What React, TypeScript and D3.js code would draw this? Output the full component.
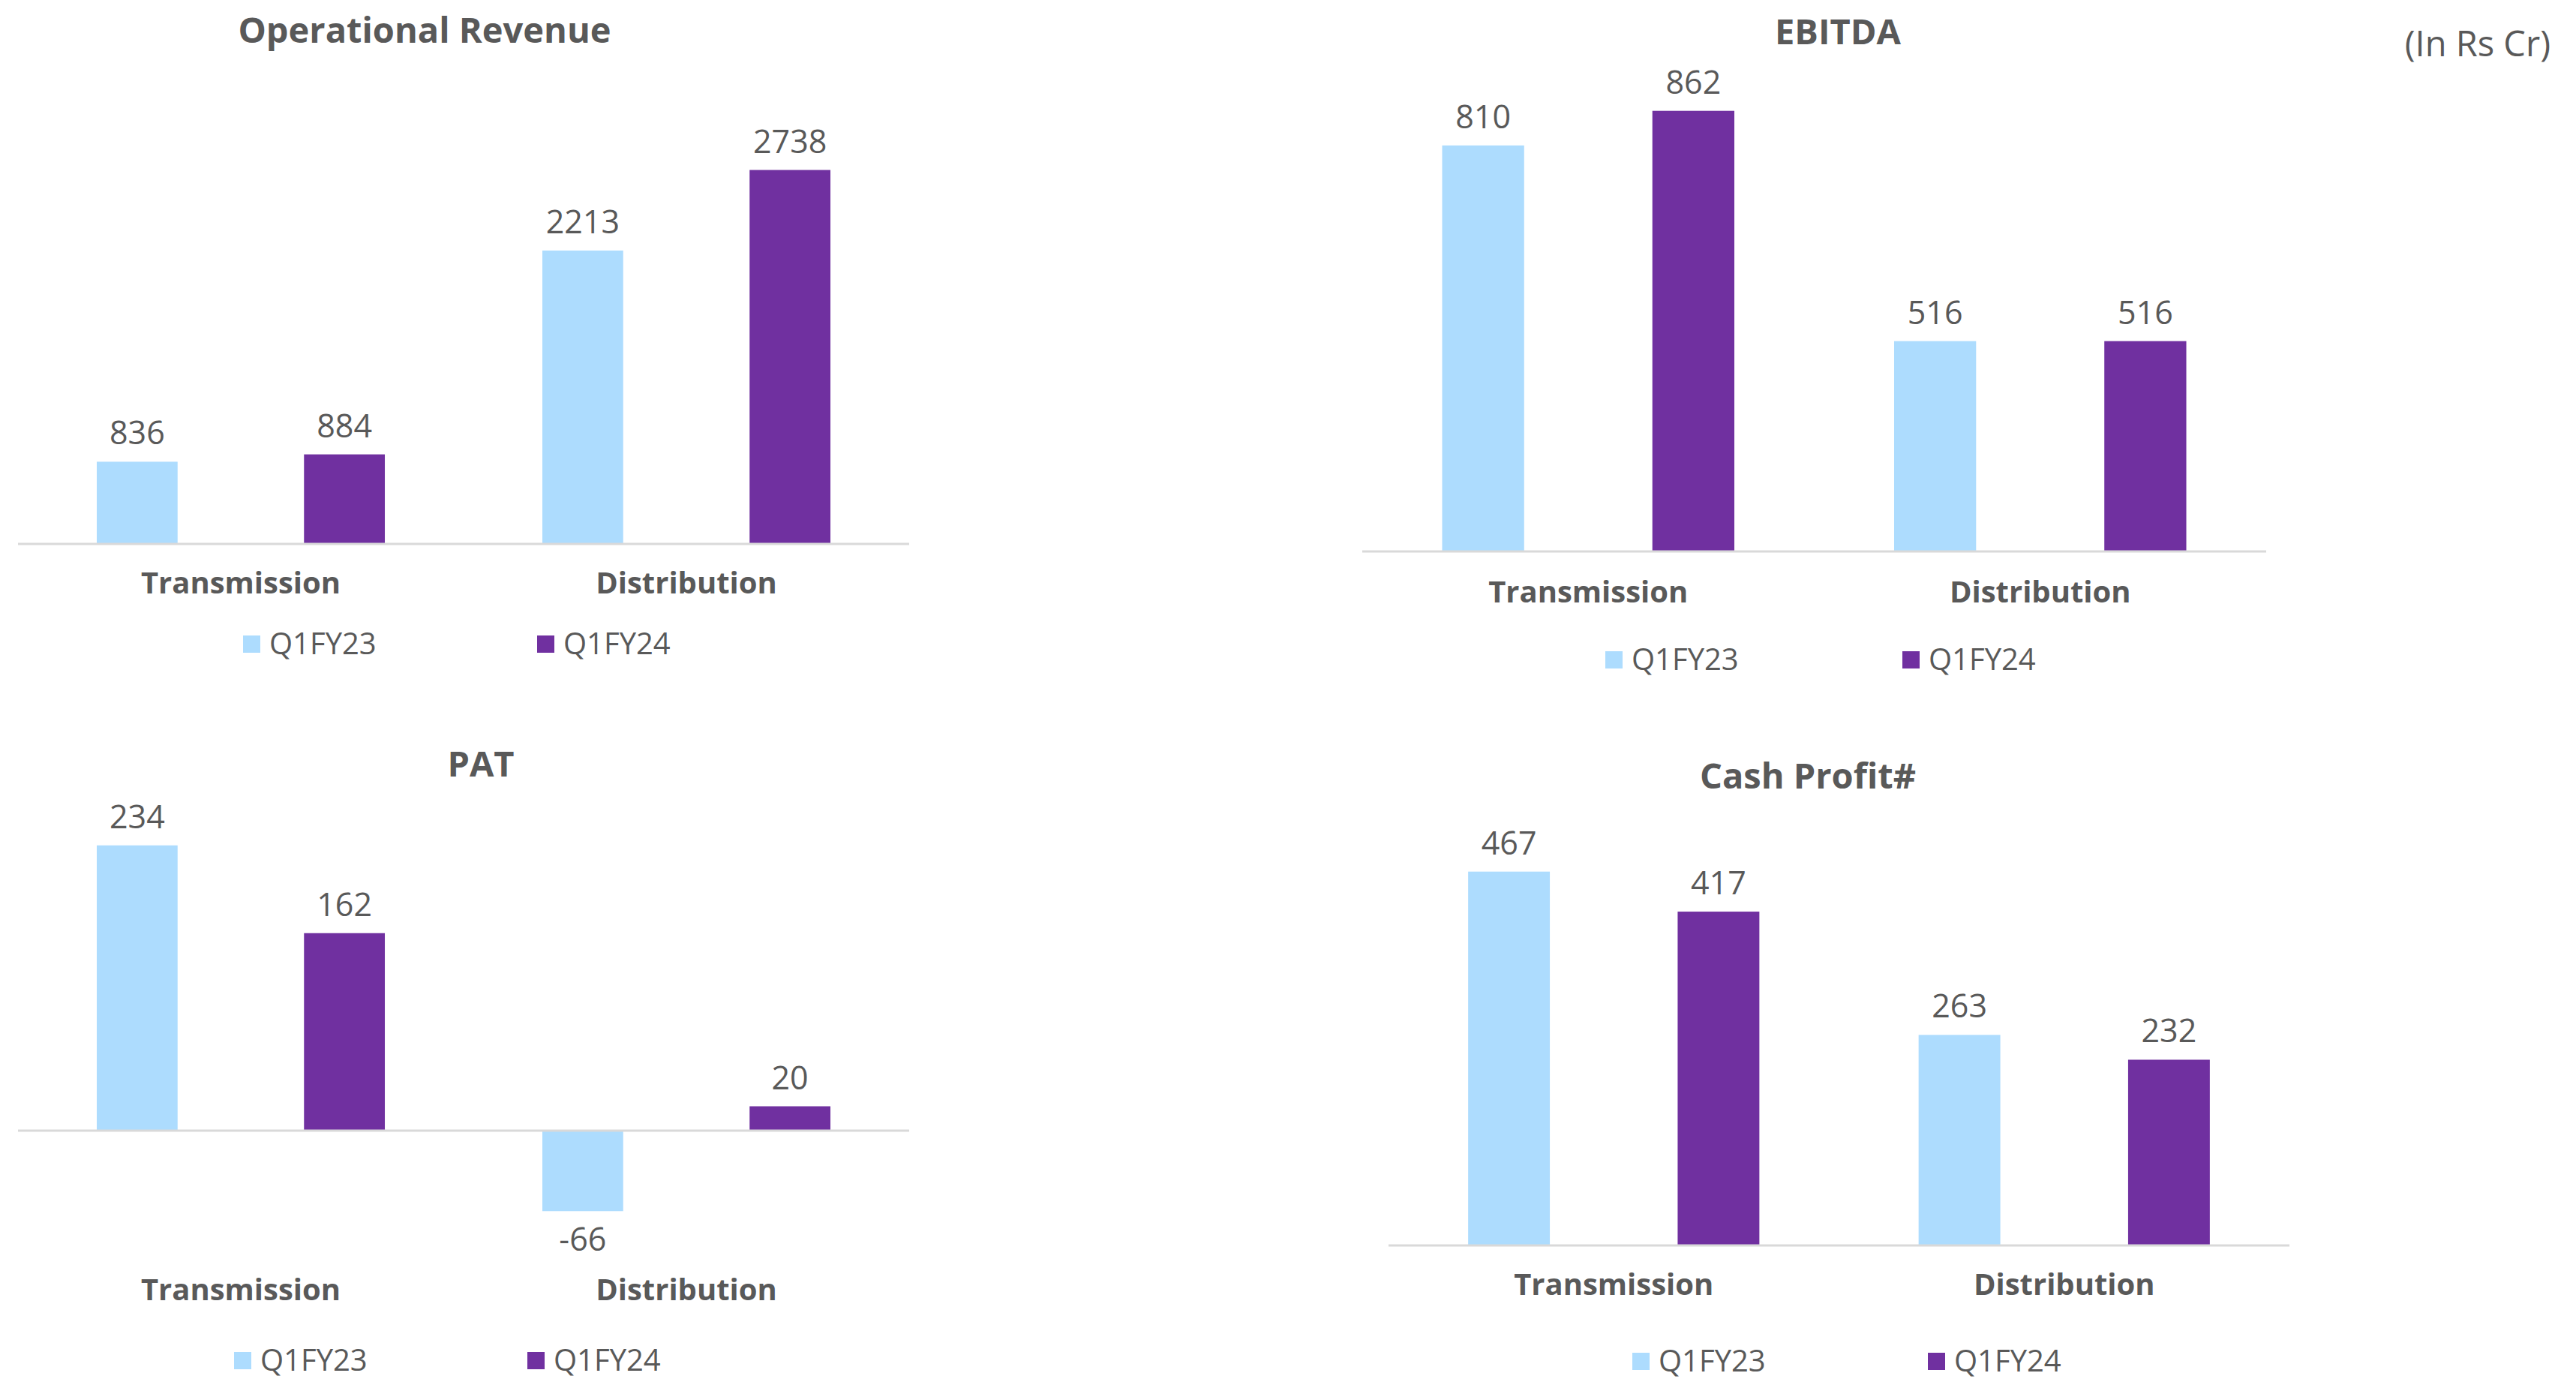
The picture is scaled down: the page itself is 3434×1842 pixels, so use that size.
import React from "react";
import * as d3 from "d3";

const categories = ["Transmission", "Distribution"];
const seriesNames = ["Q1FY23", "Q1FY24"];
const revenueQ1FY23 = [836, 2213];
const revenueQ1FY24 = [884, 2738];
const ebitdaQ1FY23 = [810, 516];
const ebitdaQ1FY24 = [862, 516];
const patQ1FY23 = [234, -66];
const patQ1FY24 = [162, 20];
const cashQ1FY23 = [467, 263];
const cashQ1FY24 = [417, 232];

const COLORS = ["#ADDCFE", "#7030A0"];
const TEXT = "#595959";
const FONT = "'Open Sans', 'Noto Sans', sans-serif";

type PanelCfg = {
  title: string;
  titleX: number;
  titleY: number;
  x0: number;
  x1: number;
  domain: [number, number];
  yRange: [number, number];
  catY: number;
  legendY: number;
  legendX: number[];
  series: number[][];
};

const panels: PanelCfg[] = [
  {
    title: "Operational Revenue",
    titleX: 566,
    titleY: 57,
    x0: 24,
    x1: 1212,
    domain: [300, 3000],
    yRange: [725, 173],
    catY: 791,
    legendY: 872,
    legendX: [324, 716],
    series: [revenueQ1FY23, revenueQ1FY24],
  },
  {
    title: "EBITDA",
    titleX: 2450,
    titleY: 59,
    x0: 1816,
    x1: 3021,
    domain: [200, 900],
    yRange: [735, 114],
    catY: 803,
    legendY: 893,
    legendX: [2140, 2536],
    series: [ebitdaQ1FY23, ebitdaQ1FY24],
  },
  {
    title: "PAT",
    titleX: 641,
    titleY: 1035,
    x0: 24,
    x1: 1212,
    domain: [-100, 300],
    yRange: [1669.5, 1019.5],
    catY: 1733,
    legendY: 1827,
    legendX: [312, 703],
    series: [patQ1FY23, patQ1FY24],
  },
  {
    title: "Cash Profit#",
    titleX: 2410,
    titleY: 1051,
    x0: 1851,
    x1: 3052,
    domain: [0, 500],
    yRange: [1660, 1126.5],
    catY: 1726,
    legendY: 1828,
    legendX: [2176, 2570],
    series: [cashQ1FY23, cashQ1FY24],
  },
];

function Panel({ cfg }: { cfg: PanelCfg }) {
  const x = d3.scaleBand<string>().domain(categories).range([cfg.x0, cfg.x1]).padding(0);
  const xs = d3
    .scaleBand<string>()
    .domain(seriesNames)
    .range([0, x.bandwidth()])
    .paddingInner(0.61)
    .paddingOuter(0.38);
  const y = d3.scaleLinear().domain(cfg.domain).range(cfg.yRange);
  const base = y(Math.max(0, cfg.domain[0]));
  return (
    <g>
      <text
        x={cfg.titleX}
        y={cfg.titleY}
        textAnchor="middle"
        fontFamily={FONT}
        fontWeight={700}
        fontSize={47}
        fill={TEXT}
      >
        {cfg.title}
      </text>
      {cfg.series.map((vals, si) =>
        vals.map((v, ci) => {
          const bx = (x(categories[ci]) as number) + (xs(seriesNames[si]) as number);
          const yv = y(v);
          const top = Math.min(yv, base);
          const h = Math.abs(yv - base);
          const lx = bx + xs.bandwidth() / 2;
          const ly = v >= 0 ? yv - 23 : yv + 53;
          return (
            <g key={`${si}-${ci}`}>
              <rect x={bx} y={top} width={xs.bandwidth()} height={h} fill={COLORS[si]} />
              <text
                x={lx}
                y={ly}
                textAnchor="middle"
                fontFamily={FONT}
                fontSize={43}
                fill={TEXT}
              >
                {v}
              </text>
            </g>
          );
        })
      )}
      <line x1={cfg.x0} x2={cfg.x1} y1={base} y2={base} stroke="#D9D9D9" strokeWidth={3} />
      {categories.map((c) => (
        <text
          key={c}
          x={(x(c) as number) + x.bandwidth() / 2}
          y={cfg.catY}
          textAnchor="middle"
          fontFamily={FONT}
          fontWeight={700}
          fontSize={40}
          fill={TEXT}
        >
          {c}
        </text>
      ))}
      {seriesNames.map((s, si) => (
        <g key={s}>
          <rect x={cfg.legendX[si]} y={cfg.legendY - 25} width={23} height={23} fill={COLORS[si]} />
          <text
            x={cfg.legendX[si] + 35}
            y={cfg.legendY}
            fontFamily={FONT}
            fontSize={40}
            fill={TEXT}
          >
            {s}
          </text>
        </g>
      ))}
    </g>
  );
}

export default function App() {
  return (
    <svg
      width={3434}
      height={1842}
      viewBox="0 0 3434 1842"
      style={{ position: "absolute", left: 0, top: 0, background: "#FFFFFF", display: "block" }}
    >
      <rect x={0} y={0} width={3434} height={1842} fill="#FFFFFF" />
      {panels.map((p) => (
        <Panel key={p.title} cfg={p} />
      ))}
      <text x={3400} y={75} textAnchor="end" fontFamily={FONT} fontSize={47} fill={TEXT}>
        (In Rs Cr)
      </text>
    </svg>
  );
}
